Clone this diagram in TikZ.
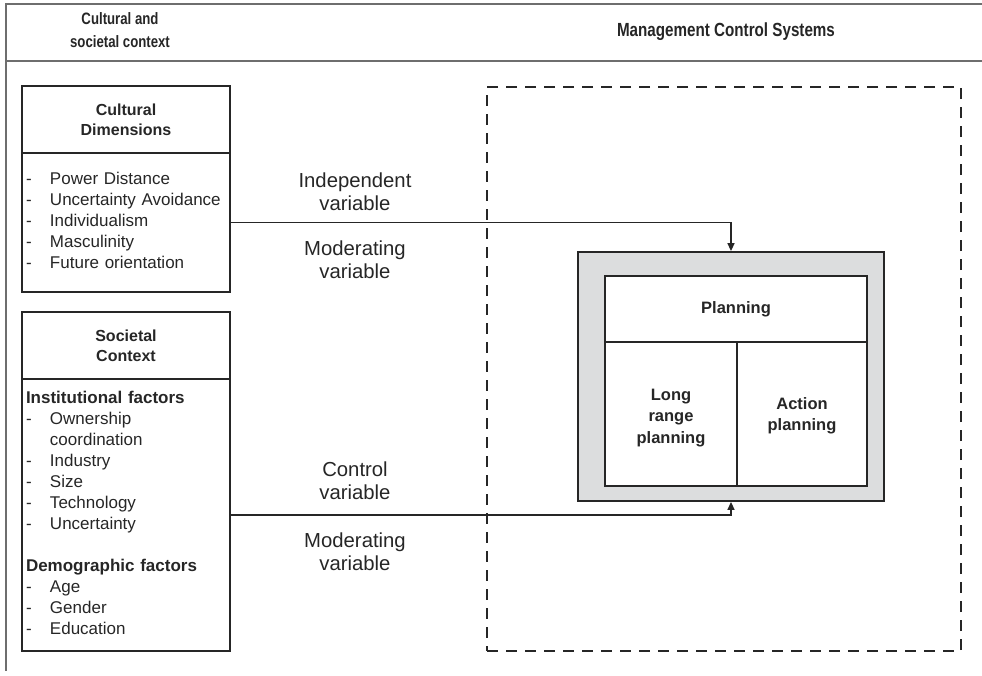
\documentclass[tikz,border=0pt]{standalone}
\usepackage{fontspec}
\setmainfont{Liberation Sans}
\newfontfamily\headfont[FakeStretch=0.8]{Liberation Sans}
\usetikzlibrary{arrows.meta,calc}
\definecolor{ink}{HTML}{262626}
\definecolor{rule}{HTML}{6E6E6E}
\definecolor{shade}{HTML}{DCDDDE}

\tikzset{
  framerule/.style={draw=rule, line width=1.6pt},
  cell/.style={draw=ink, line width=1.8pt, rectangle, inner sep=0pt, text=ink,
    align=center, font=\bfseries\fontsize{16}{20}\selectfont},
  cellbig/.style={cell, font=\bfseries\fontsize{16.5}{21}\selectfont},
  celltext/.style={text=ink, align=center, inner sep=0pt, font=\bfseries\fontsize{16.5}{21.5}\selectfont},
  listbox/.style={draw=ink, line width=1.8pt, rectangle, inner xsep=4pt, inner ysep=0pt,
    text width=200pt, align=left, text=ink, font=\fontsize{17}{21}\selectfont},
  varlabel/.style={text=ink, align=center, inner sep=0pt, font=\fontsize{20.3}{23}\selectfont},
  headlabel/.style={text=ink, align=center, inner sep=0pt, font=\headfont\bfseries\fontsize{16.5}{23}\selectfont},
  conn/.style={draw=ink, line width=1.4pt, -{Triangle[length=8pt,width=7pt]}},
  msbox/.style={draw=ink, line width=2pt, dash pattern=on 11pt off 8pt, rectangle, inner sep=0pt},
}

\begin{document}
\begin{tikzpicture}[x=1pt,y=-1pt]
\useasboundingbox (0,0) rectangle (982,675);

% page frame and header row
\draw[framerule] (982,4) -- (6,4) -- (6,671);
\draw[framerule] (6,61) -- (982,61);
\node[headlabel] (hleft) at (120,30.5) {Cultural and\\societal context};
\node[headlabel, font=\headfont\bfseries\fontsize{19}{23}\selectfont] (hright) at (726,32) {Management Control Systems};

% management control systems area
\node[msbox, minimum width=474pt, minimum height=564pt] (mcs) at (724,369) {};

% cultural dimensions
\node[cell, minimum width=208pt, minimum height=67pt] (cdhead) at (126,119.5) {Cultural\\Dimensions};
\node[listbox, minimum height=139pt] (cdbody) at (126,222.5) {%
\begin{tabular}{@{}p{24pt}@{}l@{}}
- & Power Distance\\
- & Uncertainty Avoidance\\
- & Individualism\\
- & Masculinity\\
- & Future orientation
\end{tabular}};

% societal context
\node[cell, minimum width=208pt, minimum height=67pt] (schead) at (126,345.5) {Societal\\Context};
\node[listbox, minimum height=272pt] (scbody) at (126,515) {%
\begin{tabular}{@{}p{24pt}@{}l@{}}
\multicolumn{2}{@{}l@{}}{\bfseries Institutional factors}\\
- & Ownership\\
  & coordination\\
- & Industry\\
- & Size\\
- & Technology\\
- & Uncertainty\\
\multicolumn{2}{@{}l@{}}{}\\
\multicolumn{2}{@{}l@{}}{\bfseries Demographic factors}\\
- & Age\\
- & Gender\\
- & Education
\end{tabular}};

% planning block
\node[cell, fill=shade, minimum width=306pt, minimum height=249pt] (outer) at (731,376.5) {};
\node[cellbig, fill=white, minimum width=262pt, minimum height=66pt] (plan) at (736,309) {Planning};
\node[cell, fill=white, minimum width=132pt, minimum height=144pt] (lrp) at (671,414) {};
\node[cell, fill=white, minimum width=130pt, minimum height=144pt] (ap) at (802,414) {};
\node[celltext] (lrptext) at ($(lrp.center)+(0,4)$) {Long\\range\\planning};
\node[celltext] (aptext) at ($(ap.center)+(0,2)$) {Action\\planning};

% variable labels
\node[varlabel] (lind) at (355,191.5) {Independent\\variable};
\node[varlabel] (lmod1) at (355,260) {Moderating\\variable};
\node[varlabel] (lctl) at (355,481) {Control\\variable};
\node[varlabel] (lmod2) at (355,551.5) {Moderating\\variable};

% connectors
\draw[conn] (cdbody.east) -| (outer.north);
\draw[conn] (scbody.east) -| (outer.south);
\end{tikzpicture}
\end{document}
